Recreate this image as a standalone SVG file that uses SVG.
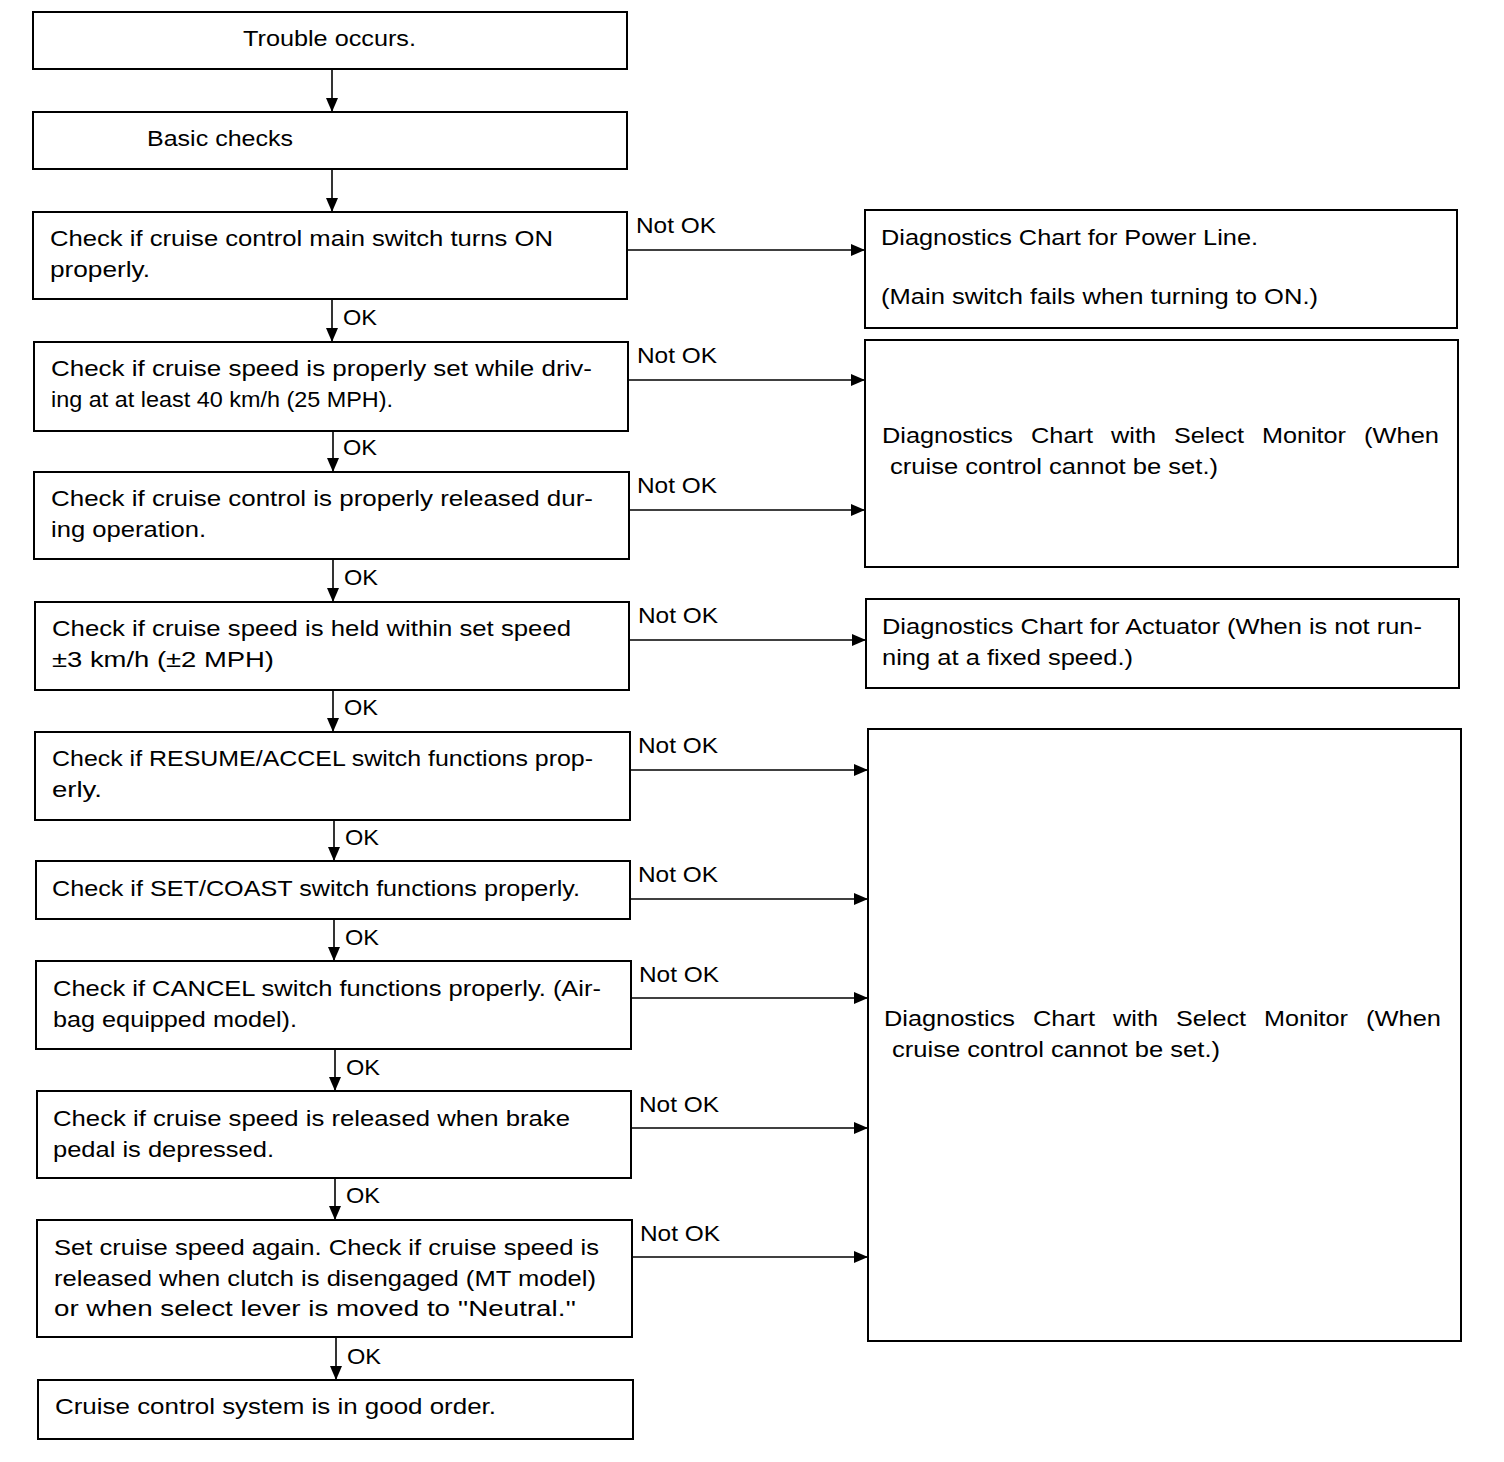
<svg xmlns="http://www.w3.org/2000/svg" width="1504" height="1462" viewBox="0 0 1504 1462">
<style>
.box{fill:#fff;stroke:#000;stroke-width:2}
.t{font-family:"Liberation Sans",Arial,sans-serif;font-size:22px;fill:#000}
.c{stroke:#000;stroke-width:1.6;fill:none;marker-end:url(#ah)}
</style>
<defs>
<marker id="ah" markerUnits="userSpaceOnUse" markerWidth="14" markerHeight="12" refX="14" refY="6" orient="auto">
<path d="M0,0 L14,6 L0,12 z" fill="#000"/>
</marker>
</defs>
<rect width="1504" height="1462" fill="#fff"/>
<g id="connectors">
<line class="c" x1="332" y1="69" x2="332" y2="112"/>
<line class="c" x1="332" y1="169" x2="332" y2="212"/>
<line class="c" x1="332" y1="299" x2="332" y2="342"/>
<line class="c" x1="333" y1="431" x2="333" y2="472"/>
<line class="c" x1="333" y1="559" x2="333" y2="602"/>
<line class="c" x1="333" y1="690" x2="333" y2="732"/>
<line class="c" x1="334" y1="820" x2="334" y2="861"/>
<line class="c" x1="334" y1="919" x2="334" y2="961"/>
<line class="c" x1="335" y1="1049" x2="335" y2="1091"/>
<line class="c" x1="335" y1="1178" x2="335" y2="1220"/>
<line class="c" x1="336" y1="1337" x2="336" y2="1380"/>
<line class="c" x1="627" y1="250" x2="865" y2="250"/>
<line class="c" x1="628" y1="380" x2="865" y2="380"/>
<line class="c" x1="629" y1="510" x2="865" y2="510"/>
<line class="c" x1="629" y1="640" x2="866" y2="640"/>
<line class="c" x1="630" y1="770" x2="868" y2="770"/>
<line class="c" x1="630" y1="899" x2="868" y2="899"/>
<line class="c" x1="631" y1="998" x2="868" y2="998"/>
<line class="c" x1="631" y1="1128" x2="868" y2="1128"/>
<line class="c" x1="632" y1="1257" x2="868" y2="1257"/>
<text class="t" x="343" y="325" textLength="34" lengthAdjust="spacingAndGlyphs">OK</text>
<text class="t" x="343" y="455" textLength="34" lengthAdjust="spacingAndGlyphs">OK</text>
<text class="t" x="344" y="585" textLength="34" lengthAdjust="spacingAndGlyphs">OK</text>
<text class="t" x="344" y="715" textLength="34" lengthAdjust="spacingAndGlyphs">OK</text>
<text class="t" x="345" y="845" textLength="34" lengthAdjust="spacingAndGlyphs">OK</text>
<text class="t" x="345" y="945" textLength="34" lengthAdjust="spacingAndGlyphs">OK</text>
<text class="t" x="346" y="1075" textLength="34" lengthAdjust="spacingAndGlyphs">OK</text>
<text class="t" x="346" y="1203" textLength="34" lengthAdjust="spacingAndGlyphs">OK</text>
<text class="t" x="347" y="1364" textLength="34" lengthAdjust="spacingAndGlyphs">OK</text>
<text class="t" x="636" y="233" textLength="80" lengthAdjust="spacingAndGlyphs">Not OK</text>
<text class="t" x="637" y="363" textLength="80" lengthAdjust="spacingAndGlyphs">Not OK</text>
<text class="t" x="637" y="493" textLength="80" lengthAdjust="spacingAndGlyphs">Not OK</text>
<text class="t" x="638" y="623" textLength="80" lengthAdjust="spacingAndGlyphs">Not OK</text>
<text class="t" x="638" y="753" textLength="80" lengthAdjust="spacingAndGlyphs">Not OK</text>
<text class="t" x="638" y="882" textLength="80" lengthAdjust="spacingAndGlyphs">Not OK</text>
<text class="t" x="639" y="982" textLength="80" lengthAdjust="spacingAndGlyphs">Not OK</text>
<text class="t" x="639" y="1112" textLength="80" lengthAdjust="spacingAndGlyphs">Not OK</text>
<text class="t" x="640" y="1241" textLength="80" lengthAdjust="spacingAndGlyphs">Not OK</text>
</g>
<g id="n1"><rect class="box" x="33" y="12" width="594" height="57"/>
<text class="t" x="243" y="46" textLength="173" lengthAdjust="spacingAndGlyphs">Trouble occurs.</text></g>
<g id="n2"><rect class="box" x="33" y="112" width="594" height="57"/>
<text class="t" x="147" y="146" textLength="146" lengthAdjust="spacingAndGlyphs">Basic checks</text></g>
<g id="n3"><rect class="box" x="33" y="212" width="594" height="87"/>
<text class="t" x="50" y="246" textLength="503" lengthAdjust="spacingAndGlyphs">Check if cruise control main switch turns ON</text>
<text class="t" x="50" y="277" textLength="100" lengthAdjust="spacingAndGlyphs">properly.</text></g>
<g id="n4"><rect class="box" x="34" y="342" width="594" height="89"/>
<text class="t" x="51" y="376" textLength="541" lengthAdjust="spacingAndGlyphs">Check if cruise speed is properly set while driv-</text>
<text class="t" x="51" y="407" textLength="342" lengthAdjust="spacingAndGlyphs">ing at at least 40 km/h (25 MPH).</text></g>
<g id="n5"><rect class="box" x="34" y="472" width="595" height="87"/>
<text class="t" x="51" y="506" textLength="542" lengthAdjust="spacingAndGlyphs">Check if cruise control is properly released dur-</text>
<text class="t" x="51" y="537" textLength="155" lengthAdjust="spacingAndGlyphs">ing operation.</text></g>
<g id="n6"><rect class="box" x="35" y="602" width="594" height="88"/>
<text class="t" x="52" y="636" textLength="519" lengthAdjust="spacingAndGlyphs">Check if cruise speed is held within set speed</text>
<text class="t" x="52" y="667" textLength="222" lengthAdjust="spacingAndGlyphs">±3 km/h (±2 MPH)</text></g>
<g id="n7"><rect class="box" x="35" y="732" width="595" height="88"/>
<text class="t" x="52" y="766" textLength="541" lengthAdjust="spacingAndGlyphs">Check if RESUME/ACCEL switch functions prop-</text>
<text class="t" x="52" y="797" textLength="50" lengthAdjust="spacingAndGlyphs">erly.</text></g>
<g id="n8"><rect class="box" x="36" y="861" width="594" height="58"/>
<text class="t" x="52" y="896" textLength="528" lengthAdjust="spacingAndGlyphs">Check if SET/COAST switch functions properly.</text></g>
<g id="n9"><rect class="box" x="36" y="961" width="595" height="88"/>
<text class="t" x="53" y="996" textLength="548" lengthAdjust="spacingAndGlyphs">Check if CANCEL switch functions properly. (Air-</text>
<text class="t" x="53" y="1027" textLength="244" lengthAdjust="spacingAndGlyphs">bag equipped model).</text></g>
<g id="n10"><rect class="box" x="37" y="1091" width="594" height="87"/>
<text class="t" x="53" y="1126" textLength="517" lengthAdjust="spacingAndGlyphs">Check if cruise speed is released when brake</text>
<text class="t" x="53" y="1157" textLength="221" lengthAdjust="spacingAndGlyphs">pedal is depressed.</text></g>
<g id="n11"><rect class="box" x="37" y="1220" width="595" height="117"/>
<text class="t" x="54" y="1255" textLength="545" lengthAdjust="spacingAndGlyphs">Set cruise speed again. Check if cruise speed is</text>
<text class="t" x="54" y="1286" textLength="542" lengthAdjust="spacingAndGlyphs">released when clutch is disengaged (MT model)</text>
<text class="t" x="54" y="1316" textLength="522" lengthAdjust="spacingAndGlyphs">or when select lever is moved to ''Neutral.''</text></g>
<g id="n12"><rect class="box" x="38" y="1380" width="595" height="59"/>
<text class="t" x="55" y="1414" textLength="441" lengthAdjust="spacingAndGlyphs">Cruise control system is in good order.</text></g>
<g id="r1"><rect class="box" x="865" y="210" width="592" height="118"/>
<text class="t" x="881" y="245" textLength="377" lengthAdjust="spacingAndGlyphs">Diagnostics Chart for Power Line.</text>
<text class="t" x="881" y="304" textLength="437" lengthAdjust="spacingAndGlyphs">(Main switch fails when turning to ON.)</text></g>
<g id="r2"><rect class="box" x="865" y="340" width="593" height="227"/>
<text class="t" x="882" y="443" textLength="131" lengthAdjust="spacingAndGlyphs">Diagnostics</text>
<text class="t" x="1031" y="443" textLength="62" lengthAdjust="spacingAndGlyphs">Chart</text>
<text class="t" x="1111" y="443" textLength="45" lengthAdjust="spacingAndGlyphs">with</text>
<text class="t" x="1174" y="443" textLength="70" lengthAdjust="spacingAndGlyphs">Select</text>
<text class="t" x="1262" y="443" textLength="84" lengthAdjust="spacingAndGlyphs">Monitor</text>
<text class="t" x="1364" y="443" textLength="75" lengthAdjust="spacingAndGlyphs">(When</text>
<text class="t" x="890" y="474" textLength="328" lengthAdjust="spacingAndGlyphs">cruise control cannot be set.)</text></g>
<g id="r3"><rect class="box" x="866" y="599" width="593" height="89"/>
<text class="t" x="882" y="634" textLength="540" lengthAdjust="spacingAndGlyphs">Diagnostics Chart for Actuator (When is not run-</text>
<text class="t" x="882" y="665" textLength="251" lengthAdjust="spacingAndGlyphs">ning at a fixed speed.)</text></g>
<g id="r4"><rect class="box" x="868" y="729" width="593" height="612"/>
<text class="t" x="884" y="1026" textLength="131" lengthAdjust="spacingAndGlyphs">Diagnostics</text>
<text class="t" x="1033" y="1026" textLength="62" lengthAdjust="spacingAndGlyphs">Chart</text>
<text class="t" x="1113" y="1026" textLength="45" lengthAdjust="spacingAndGlyphs">with</text>
<text class="t" x="1176" y="1026" textLength="70" lengthAdjust="spacingAndGlyphs">Select</text>
<text class="t" x="1264" y="1026" textLength="84" lengthAdjust="spacingAndGlyphs">Monitor</text>
<text class="t" x="1366" y="1026" textLength="75" lengthAdjust="spacingAndGlyphs">(When</text>
<text class="t" x="892" y="1057" textLength="328" lengthAdjust="spacingAndGlyphs">cruise control cannot be set.)</text></g>
</svg>
